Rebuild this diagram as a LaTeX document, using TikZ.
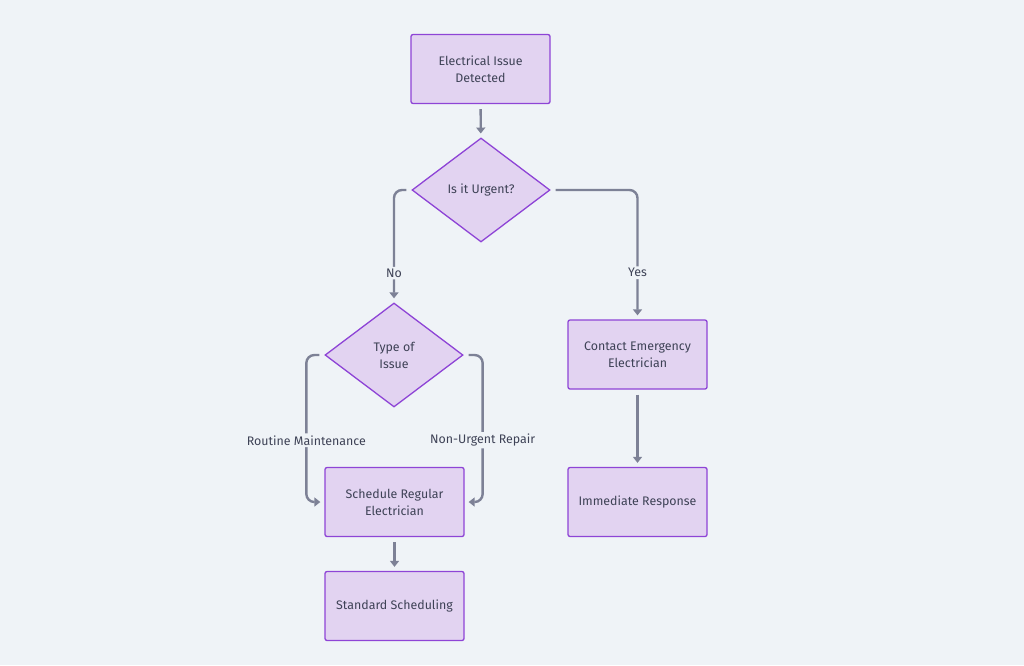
\documentclass[tikz,border=0pt]{standalone}
\usepackage{fontspec}
\setmainfont{Fira Sans}
\usetikzlibrary{arrows.meta,positioning,shapes.geometric}

\definecolor{bgcol}{HTML}{EFF3F7}
\definecolor{boxfill}{HTML}{E2D3F1}
\definecolor{boxline}{HTML}{8E44D6}
\definecolor{linecol}{HTML}{7D8196}
\definecolor{txtcol}{HTML}{3E4256}

\begin{document}
\begin{tikzpicture}[
    x=1pt, y=-1pt,
    box/.style={draw=boxline, fill=boxfill, line width=1.3pt, rounded corners=2pt,
      minimum width=139pt, minimum height=69pt, align=center, text=txtcol, font=\fontsize{12.4}{17}\selectfont},
    choice/.style={draw=boxline, fill=boxfill, line width=1.3pt, diamond, inner sep=0pt,
      minimum width=138pt, minimum height=104pt, align=center, text=txtcol, font=\fontsize{12.4}{17}\selectfont},
    arrow/.style={-{Triangle[length=6pt,width=9pt]}, line width=2.4pt, linecol, rounded corners=8pt,
      shorten >=4pt, shorten <=5pt},
    lab/.style={font=\fontsize{12.4}{14}\selectfont, text=txtcol, fill=bgcol, inner sep=2pt}
  ]
    \fill[bgcol] (0,0) rectangle (1024,665);

    \node[box]    (start)  at (480.5,69)  {Electrical Issue\\Detected};
    \node[choice] (urgent) at (481,190)   {Is it Urgent?};
    \node[choice] (kind)   at (394,355)   {Type of\\Issue};
    \node[box]    (call)   at (637.5,354.5) {Contact Emergency\\Electrician};
    \node[box]    (resp)   at (637.5,502) {Immediate Response};
    \node[box]    (sched)  at (394.5,502) {Schedule Regular\\Electrician};
    \node[box]    (std)    at (394.5,606) {Standard Scheduling};

    \draw[arrow] (start) -- (urgent);
    \draw[arrow] (urgent.west) -| node[lab, pos=0.87]{No} (kind.north);
    \draw[arrow] (urgent.east) -| node[lab, pos=0.82]{Yes} (call.north);
    \draw[arrow] (kind.west) -- ++(-18,0) |- node[lab, pos=0.29]{Routine Maintenance} (sched.west);
    \draw[arrow] (kind.east) -- ++(19,0) |- node[lab, pos=0.29]{Non-Urgent Repair} (sched.east);
    \draw[arrow] (sched) -- (std);
    \draw[arrow] (call) -- (resp);
\end{tikzpicture}
\end{document}
